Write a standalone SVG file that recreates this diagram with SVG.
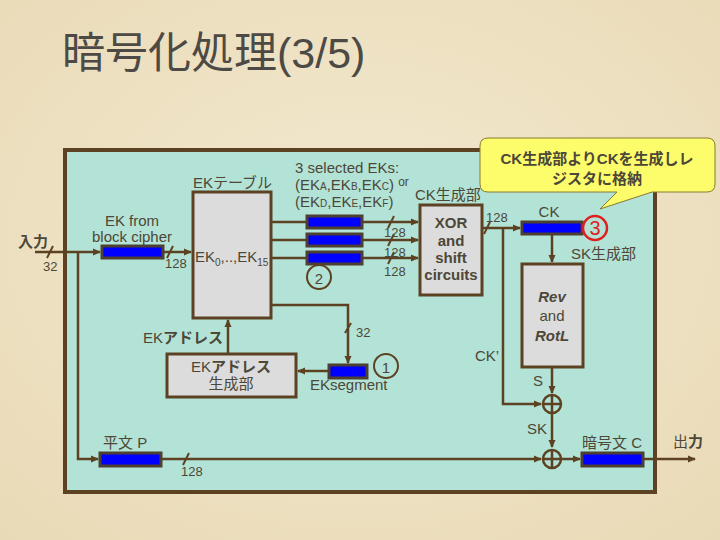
<svg xmlns="http://www.w3.org/2000/svg" width="720" height="540" viewBox="0 0 720 540">
<defs>
<radialGradient id="bg" cx="50%" cy="45%" r="75%">
<stop offset="0" stop-color="#f3e9d0"/>
<stop offset="1" stop-color="#e9dab6"/>
</radialGradient>
<marker id="ah" markerWidth="8" markerHeight="8" refX="7" refY="4" orient="auto" markerUnits="userSpaceOnUse">
<path d="M0,0.5 L8,4 L0,7.5 Z" fill="#5c4222"/>
</marker>
</defs>
<style>
.t{font-family:"Liberation Sans","Noto Sans CJK JP",sans-serif;fill:#4d4738;font-size:15px}
.s{font-size:13px}
.b{font-weight:bold}
.c{text-anchor:middle}
.box{fill:#dcdcdc;stroke:#5c4222;stroke-width:3}
.reg{fill:#0000ff;stroke:#4d4030;stroke-width:3}
.ln{fill:none;stroke:#5c4222;stroke-width:2.5}
.sl{stroke:#5c4222;stroke-width:2}
.ox{fill:none;stroke:#5c4222;stroke-width:2.5}
</style>
<rect width="720" height="540" fill="url(#bg)"/>
<text x="62" y="68" font-family="Liberation Sans,'Noto Sans CJK JP',sans-serif" font-size="43" fill="#4d4a45">暗号化処理(3/5)</text>

<rect id="mainbox" x="65" y="150" width="590" height="342" fill="#b3e3d6" stroke="#5c4222" stroke-width="4"/>

<g id="connectors">
<path class="ln" d="M35,252 H100" marker-end="url(#ah)"/>
<path class="ln" d="M78,252 V459 H98" marker-end="url(#ah)"/>
<path class="ln" d="M163,252 H191" marker-end="url(#ah)"/>
<path class="ln" d="M271,222 H307 M271,240 H307 M271,258 H307"/>
<path class="ln" d="M362,222 H418" marker-end="url(#ah)"/>
<path class="ln" d="M362,240 H418" marker-end="url(#ah)"/>
<path class="ln" d="M362,258 H418" marker-end="url(#ah)"/>
<path class="ln" d="M482,228 H520" marker-end="url(#ah)"/>
<path class="ln" d="M503,228 V404 H541" marker-end="url(#ah)"/>
<path class="ln" d="M552,234 V262" marker-end="url(#ah)"/>
<path class="ln" d="M552,367 V393" marker-end="url(#ah)"/>
<path class="ln" d="M552,413 V447" marker-end="url(#ah)"/>
<path class="ln" d="M161,459 H541" marker-end="url(#ah)"/>
<path class="ln" d="M561,459 H580" marker-end="url(#ah)"/>
<path class="ln" d="M643,459 H695" marker-end="url(#ah)"/>
<path class="ln" d="M271,305 H348 V363" marker-end="url(#ah)"/>
<path class="ln" d="M329,371 H298" marker-end="url(#ah)"/>
<path class="ln" d="M228,354 V320" marker-end="url(#ah)"/>
<g class="sl">
<line x1="47" y1="258" x2="53" y2="246"/>
<line x1="167" y1="258" x2="173" y2="246"/>
<line x1="388" y1="228" x2="394" y2="216"/>
<line x1="388" y1="246" x2="394" y2="234"/>
<line x1="388" y1="264" x2="394" y2="252"/>
<line x1="484" y1="234" x2="490" y2="222"/>
<line x1="183" y1="465" x2="189" y2="453"/>
<line x1="345" y1="333" x2="351" y2="323"/>
</g>
<text class="t s" x="43" y="271">32</text>
<text class="t s" x="165" y="268">128</text>
<text class="t s" x="384" y="237">128</text>
<text class="t s" x="384" y="257">128</text>
<text class="t s" x="384" y="276">128</text>
<text class="t s" x="486" y="222">128</text>
<text class="t s" x="181" y="476">128</text>
<text class="t s" x="356" y="337">32</text>
<text class="t" x="475" y="361">CK’</text>
<text class="t" x="533" y="386">S</text>
<text class="t" x="527" y="434">SK</text>
</g>

<g id="input"><text class="t b" x="18" y="247" font-size="16">入力</text></g>

<g id="ekfrom">
<text class="t c" x="132" y="226">EK from</text>
<text class="t c" x="132" y="242">block cipher</text>
<rect class="reg" x="102" y="246" width="61" height="12"/>
</g>

<g id="ektable">
<text class="t" x="193" y="188">EKテーブル</text>
<rect class="box" x="193" y="192" width="78" height="126"/>
<text class="t" x="195" y="262">EK<tspan font-size="10" dy="4">0</tspan><tspan dy="-4">,..,EK</tspan><tspan font-size="10" dy="4">15</tspan></text>
</g>

<g id="selected">
<text class="t" x="295" y="173">3 selected EKs:</text>
<text class="t" x="295" y="190">(EK<tspan font-size="10">A</tspan>,EK<tspan font-size="10">B</tspan>,EK<tspan font-size="10">C</tspan>) <tspan font-size="12" dy="-4">or</tspan></text>
<text class="t" x="295" y="207">(EK<tspan font-size="10">D</tspan>,EK<tspan font-size="10">E</tspan>,EK<tspan font-size="10">F</tspan>)</text>
<rect class="reg" x="307" y="216" width="55" height="12"/>
<rect class="reg" x="307" y="234" width="55" height="12"/>
<rect class="reg" x="307" y="252" width="55" height="12"/>
<circle cx="319" cy="277" r="12" fill="none" stroke="#5c4222" stroke-width="2"/>
<text class="t c" x="319" y="284" font-size="20">2</text>
</g>

<g id="xor">
<text class="t" x="415" y="200">CK生成部</text>
<rect class="box" x="420" y="205" width="62" height="90"/>
<text class="t b c" x="451" y="228" font-size="16">XOR</text>
<text class="t b c" x="451" y="246" font-size="16">and</text>
<text class="t b c" x="451" y="263" font-size="16">shift</text>
<text class="t b c" x="451" y="280" font-size="16">circuits</text>
</g>

<g id="ck">
<text class="t c" x="549" y="217">CK</text>
<rect class="reg" x="522" y="222" width="60" height="12"/>
<circle cx="595" cy="228" r="12" fill="none" stroke="#e02020" stroke-width="2.5"/>
<text class="c" x="595" y="235" font-family="Liberation Sans,sans-serif" font-size="20" fill="#e02020">3</text>
<text class="t" x="571" y="259">SK生成部</text>
</g>

<g id="rev">
<rect class="box" x="522" y="264" width="61" height="103"/>
<text class="t b c" x="552" y="302" font-style="italic">Rev</text>
<text class="t c" x="552" y="321">and</text>
<text class="t b c" x="552" y="341" font-style="italic">RotL</text>
</g>

<g id="xor1"><circle class="ox" cx="552" cy="404" r="9"/><path class="ox" d="M543,404 H561 M552,395 V413"/></g>
<g id="xor2"><circle class="ox" cx="552" cy="459" r="9"/><path class="ox" d="M543,459 H561 M552,450 V468"/></g>

<g id="plain">
<text class="t" x="103" y="448">平文 P</text>
<rect class="reg" x="100" y="453" width="61" height="13"/>
</g>

<g id="cipher">
<text class="t" x="582" y="448">暗号文 C</text>
<rect class="reg" x="582" y="453" width="61" height="13"/>
</g>

<g id="output"><text class="t" x="673" y="447">出<tspan font-weight="bold">力</tspan></text></g>

<g id="eksegment">
<rect class="reg" x="329" y="365" width="38" height="13"/>
<circle cx="386" cy="366" r="12" fill="none" stroke="#5c4222" stroke-width="2"/>
<text class="t c" x="386" y="373" font-size="20">1</text>
<text class="t" x="310" y="390">EKsegment</text>
</g>

<g id="ekaddr">
<text class="t" x="143" y="343">EK<tspan font-weight="bold">アドレス</tspan></text>
<rect class="box" x="167" y="354" width="129" height="43"/>
<text class="t c" x="231" y="372">EK<tspan font-weight="bold">アドレス</tspan></text>
<text class="t c" x="231" y="389">生成部</text>
</g>

<g id="callout">
<path d="M488,138 H707 Q715,138 715,146 V184 Q715,192 707,192 H652 L600,209 L617,192 H488 Q480,192 480,184 V146 Q480,138 488,138 Z" fill="#fdfd6c" stroke="#8a7a30" stroke-width="1"/>
<text class="t b c" x="597" y="164" font-size="16" fill="#4a3c10">CK生成部よりCKを生成しレ</text>
<text class="t b c" x="597" y="184" font-size="16" fill="#4a3c10">ジスタに格納</text>
</g>
</svg>
